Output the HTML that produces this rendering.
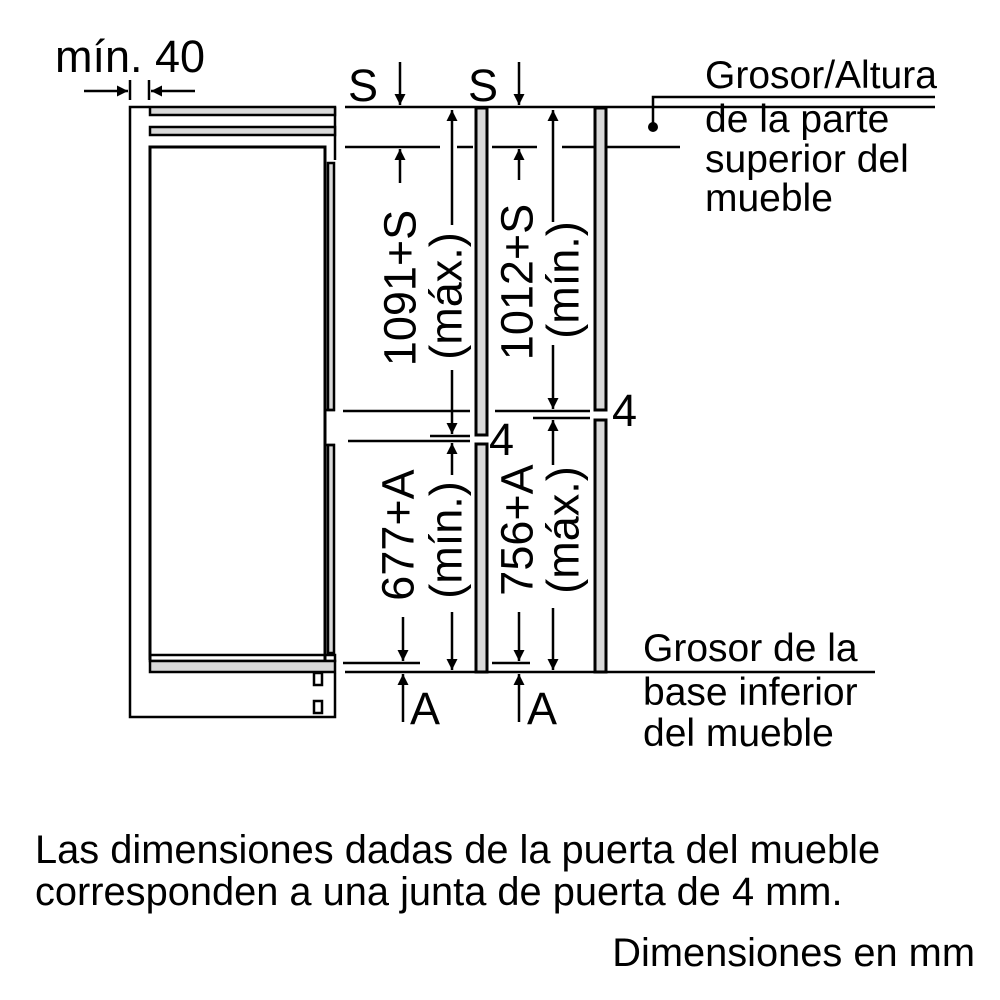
<!DOCTYPE html>
<html><head><meta charset="utf-8"><style>
html,body{margin:0;padding:0;background:#fff}
svg{display:block}
text{font-family:"Liberation Sans",Arial,sans-serif;fill:#000}
</style></head><body>
<svg width="1000" height="1000" viewBox="0 0 1000 1000" xmlns="http://www.w3.org/2000/svg">
<defs>
<marker id="ah" viewBox="0 0 10 10" refX="10" refY="5" orient="auto" markerUnits="userSpaceOnUse" markerWidth="16" markerHeight="11">
<path d="M0,0 L10,5 L0,10 z" fill="#000"/></marker>
</defs>
<g stroke="#000" stroke-width="2.5" fill="none">
<path d="M149,107 L130,107 L130,717 L335,717 L335,673"/>
<line x1="335" y1="107" x2="335" y2="160"/>
<rect x="150" y="107" width="185" height="8" fill="#d9d9d9"/>
<rect x="150" y="127" width="185" height="8" fill="#d9d9d9"/>
<path d="M150,660 L150,147 L325,147 L325,660" stroke-width="3"/>
<rect x="328" y="163" width="6" height="247" fill="#d9d9d9"/>
<rect x="328" y="445" width="6" height="208" fill="#d9d9d9"/>
<line x1="325" y1="410" x2="335" y2="410"/>
<line x1="325" y1="445" x2="335" y2="445"/>
<rect x="150" y="655" width="185" height="6"/>
<rect x="150" y="661" width="185" height="11" fill="#d9d9d9"/>
<rect x="314" y="673" width="8" height="12"/>
<rect x="314" y="701" width="8" height="12"/>
<line x1="345" y1="107" x2="935" y2="107"/>
<line x1="345" y1="147" x2="440" y2="147"/>
<line x1="457" y1="147" x2="473" y2="147"/>
<line x1="492" y1="147" x2="537" y2="147"/>
<line x1="562" y1="147" x2="680" y2="147"/>
<polyline points="653,127 653,97 935,97"/>
<line x1="343" y1="411" x2="470" y2="411"/>
<line x1="495" y1="411" x2="590" y2="411"/>
<line x1="430" y1="436" x2="470" y2="436"/>
<line x1="348" y1="441" x2="470" y2="441"/>
<line x1="533" y1="418" x2="590" y2="418"/>
<line x1="343" y1="663" x2="420" y2="663"/>
<line x1="492" y1="663" x2="530" y2="663"/>
<line x1="345" y1="672" x2="875" y2="672"/>
<rect x="476" y="108" width="11" height="327" fill="#d9d9d9" stroke-width="3"/>
<rect x="476" y="444" width="11" height="228" fill="#d9d9d9" stroke-width="3"/>
<rect x="595" y="108" width="11" height="302" fill="#d9d9d9" stroke-width="3"/>
<rect x="595" y="420" width="11" height="252" fill="#d9d9d9" stroke-width="3"/>
<line x1="130" y1="80" x2="130" y2="100"/>
<line x1="149" y1="80" x2="149" y2="100"/>
<line x1="84" y1="91" x2="128" y2="91" marker-end="url(#ah)"/>
<line x1="195" y1="91" x2="151" y2="91" marker-end="url(#ah)"/>
<g marker-end="url(#ah)">
<line x1="400" y1="62" x2="400" y2="105"/>
<line x1="400" y1="183" x2="400" y2="149"/>
<line x1="452" y1="225" x2="452" y2="110"/>
<line x1="452" y1="370" x2="452" y2="434"/>
<line x1="519" y1="62" x2="519" y2="105"/>
<line x1="519" y1="180" x2="519" y2="149"/>
<line x1="553" y1="222" x2="553" y2="110"/>
<line x1="553" y1="345" x2="553" y2="409"/>
<line x1="403" y1="617" x2="403" y2="661"/>
<line x1="452" y1="475" x2="452" y2="443"/>
<line x1="452" y1="612" x2="452" y2="670"/>
<line x1="519" y1="612" x2="519" y2="661"/>
<line x1="553" y1="465" x2="553" y2="420"/>
<line x1="553" y1="608" x2="553" y2="670"/>
<line x1="403" y1="722" x2="403" y2="674"/>
<line x1="519" y1="722" x2="519" y2="674"/>
</g>
</g>
<circle cx="653" cy="127" r="5" fill="#000"/>
<g font-size="45">
<text x="55" y="72">mín. 40</text>
<text x="348" y="101">S</text>
<text x="468" y="101">S</text>
<text x="489" y="455">4</text>
<text x="612" y="426">4</text>
<text x="410" y="724">A</text>
<text x="527" y="724">A</text>
</g>
<g font-size="45" text-anchor="middle" dominant-baseline="central">
<text transform="translate(400,288) rotate(-90)">1091+S</text>
<text transform="translate(446,296) rotate(-90)">(máx.)</text>
<text transform="translate(517,282) rotate(-90)">1012+S</text>
<text transform="translate(563,280) rotate(-90)">(mín.)</text>
<text transform="translate(398,535) rotate(-90)">677+A</text>
<text transform="translate(446,540) rotate(-90)">(mín.)</text>
<text transform="translate(517,530) rotate(-90)">756+A</text>
<text transform="translate(563,530) rotate(-90)">(máx.)</text>
</g>
<g font-size="39">
<text x="705" y="88">Grosor/Altura</text>
<text x="705" y="132">de la parte</text>
<text x="705" y="172">superior del</text>
<text x="705" y="211">mueble</text>
<text x="643" y="661">Grosor de la</text>
<text x="643" y="705">base inferior</text>
<text x="643" y="746">del mueble</text>
</g>
<g font-size="39.8">
<text x="35" y="863">Las dimensiones dadas de la puerta del mueble</text>
<text x="35" y="905">corresponden a una junta de puerta de 4 mm.</text>
<text x="975" y="966" text-anchor="end">Dimensiones en mm</text>
</g>
</svg>
</body></html>
